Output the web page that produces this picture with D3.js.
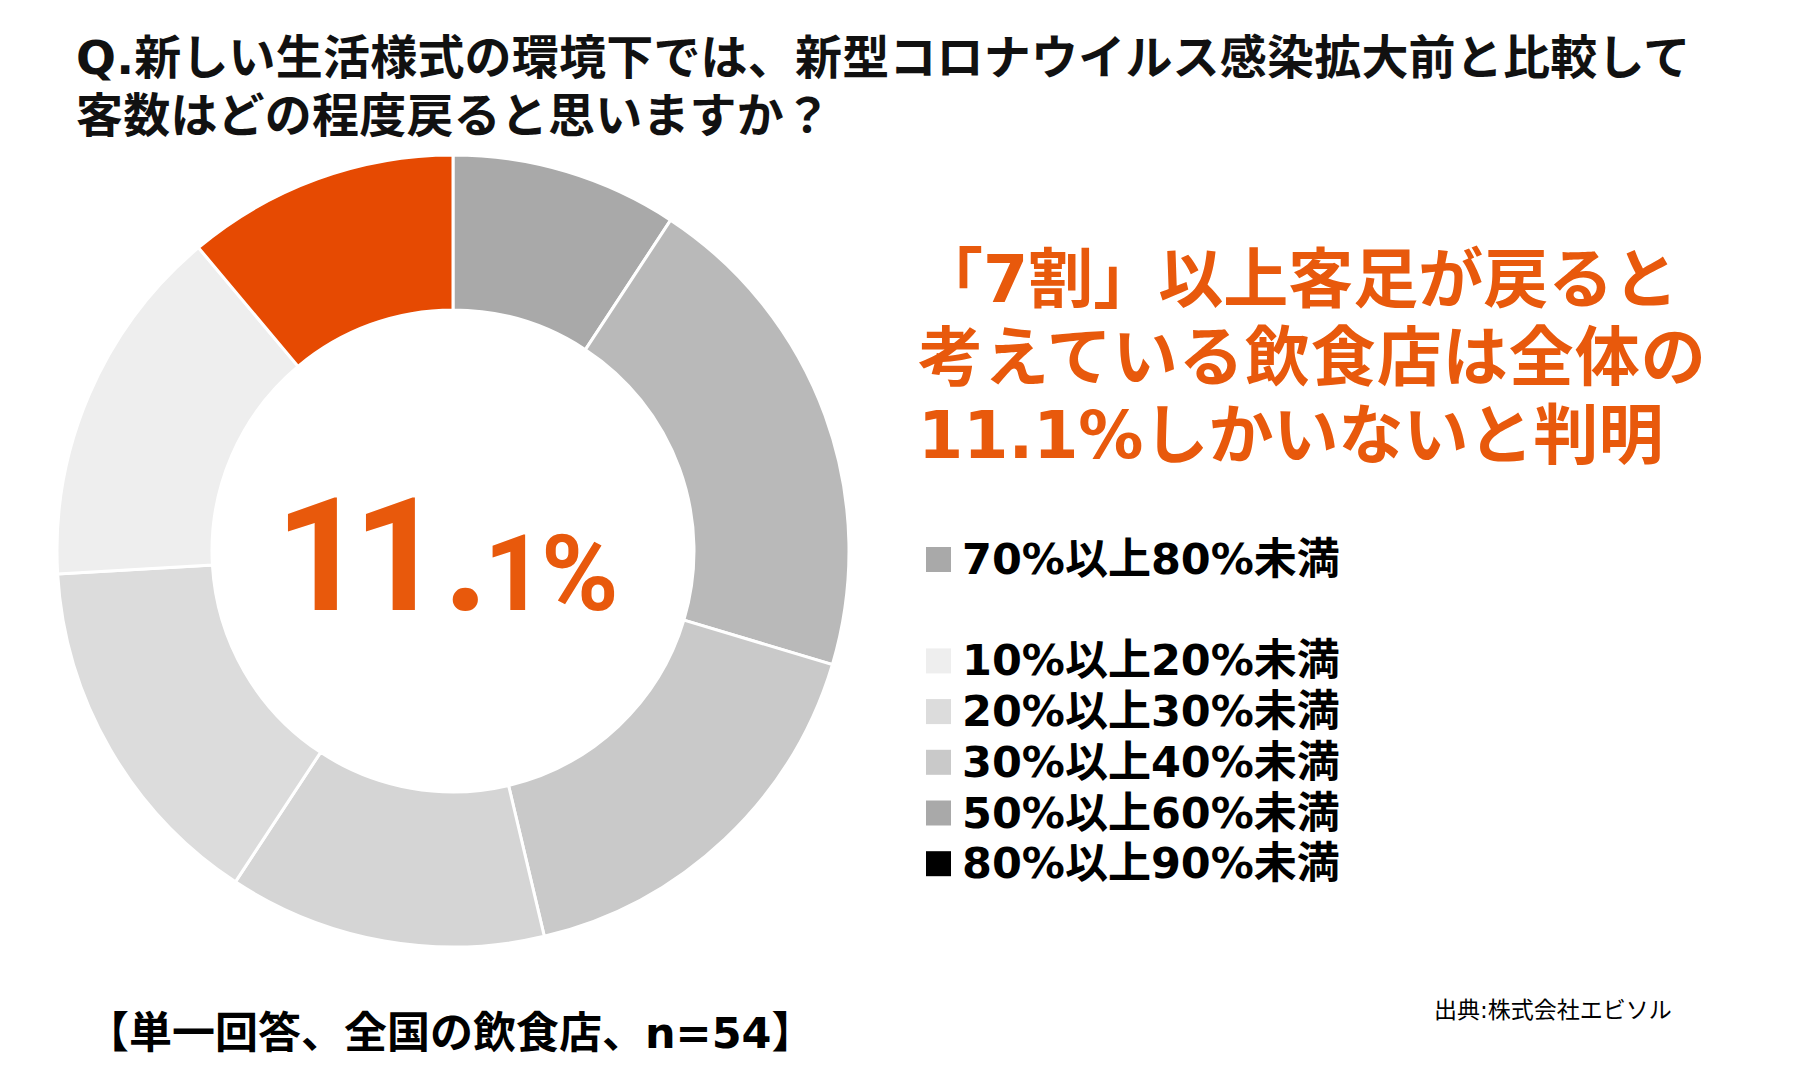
<!DOCTYPE html>
<html>
<head>
<meta charset="utf-8">
<script src="https://cdn.jsdelivr.net/npm/d3@7"></script>
<style>
  body { margin: 0; background: #fff; }
</style>
</head>
<body>
<div id="chart"></div>
<script>
var width = 1799, height = 1085;

// slices clockwise from 12 o'clock (n=54)
var sliceNames  = ["60%以上70%未満", "50%以上60%未満", "40%以上50%未満", "30%以上40%未満", "20%以上30%未満", "10%以上20%未満", "70%以上"];
var sliceCounts = [5, 11, 9, 7, 8, 8, 6];
var sliceColors = ["#a9a9a9", "#b9b9b9", "#c9c9c9", "#d5d5d5", "#dcdcdc", "#eeeeee", "#e64a02"];

// legend as shown (one blank row)
var legendLabels = ["70%以上80%未満", "", "10%以上20%未満", "20%以上30%未満", "30%以上40%未満", "50%以上60%未満", "80%以上90%未満"];
var legendColors = ["#a9a9a9", null, "#eeeeee", "#dcdcdc", "#c9c9c9", "#a9a9a9", "#000000"];

var titleLines = ["Q.新しい生活様式の環境下では、新型コロナウイルス感染拡大前と比較して",
                  "客数はどの程度戻ると思いますか？"];
var headLines = ["「7割」以上客足が戻ると", "考えている飲食店は全体の", "11.1%しかいないと判明"];

var orange = "#e8590c";
var jpFont = "'DejaVu Sans', 'Noto Sans CJK JP', sans-serif";
var numFont = "Roboto, 'Liberation Sans', Arial, sans-serif";

var svg = d3.select("#chart")
  .append("svg")
    .attr("width", width)
    .attr("height", height);

// title
svg.append("g").selectAll("text")
    .data(titleLines)
  .enter().append("text")
    .attr("x", 76)
    .attr("y", function(d, i){ return 74 + i * 58; })
    .style("font-family", jpFont)
    .attr("font-size", 47)
    .attr("font-weight", 700)
    .attr("letter-spacing", 0.2)
    .attr("fill", "#111")
    .text(function(d){ return d; });

// donut
var cx = 453, cy = 551, rOuter = 396, rInner = 241;

var pie = d3.pie().sort(null).value(function(d){ return d; });
var arc = d3.arc().innerRadius(rInner).outerRadius(rOuter);

var donut = svg.append("g")
    .attr("transform", "translate(" + cx + "," + cy + ")");

donut.selectAll("path")
    .data(pie(sliceCounts))
  .enter().append("path")
    .attr("d", arc)
    .attr("fill", function(d, i){ return sliceColors[i]; })
    .attr("stroke", "#fff")
    .attr("stroke-width", 3);

// center value: "11." large, "1%" smaller; each glyph's ink starts at a set left edge
var total = d3.sum(sliceCounts);
var pct = (sliceCounts[6] / total * 100).toFixed(1) + "%";   // 11.1%
var glyphs = pct.split("");
var glyphLeft = [287, 365, 452, 492, 545];
var glyphSize = [158, 158, 158, 105, 105];

var ctx = document.createElement("canvas").getContext("2d");
function inkOffset(ch, size) {
  ctx.font = "bold " + size + "px " + numFont;
  return ctx.measureText(ch).actualBoundingBoxLeft || 0;
}

svg.append("text")
    .attr("y", 610)
    .style("font-family", numFont)
    .attr("font-weight", 700)
    .attr("fill", orange)
  .selectAll("tspan")
    .data(glyphs)
  .enter().append("tspan")
    .attr("x", function(d, i){ return glyphLeft[i] + inkOffset(d, glyphSize[i]); })
    .style("font-family", numFont)
    .attr("font-size", function(d, i){ return glyphSize[i]; })
    .text(function(d){ return d; });

// headline
svg.append("g").selectAll("text")
    .data(headLines)
  .enter().append("text")
    .attr("x", 918)
    .attr("y", function(d, i){ return 302 + i * 78; })
    .style("font-family", jpFont)
    .attr("font-size", 65)
    .attr("font-weight", 700)
    .attr("letter-spacing", function(d, i){ return i == 1 ? 1 : 0; })
    .attr("fill", orange)
    .text(function(d){ return d; });

// legend
var legend = svg.append("g")
    .attr("transform", "translate(926,559)");

var rows = legend.selectAll("g")
    .data(legendLabels)
  .enter().append("g")
    .attr("transform", function(d, i){ return "translate(0," + (i * 50.7) + ")"; });

rows.filter(function(d, i){ return legendColors[i]; })
  .append("rect")
    .attr("x", 0)
    .attr("y", -12)
    .attr("width", 25)
    .attr("height", 25)
    .attr("fill", function(d){ return legendColors[legendLabels.indexOf(d)]; });

rows.append("text")
    .attr("x", 36)
    .attr("y", 15)
    .style("font-family", jpFont)
    .attr("font-size", 43)
    .attr("font-weight", 700)
    .attr("fill", "#000")
    .text(function(d){ return d; });

// footnote & source
svg.append("text")
    .attr("x", 86)
    .attr("y", 1048)
    .style("font-family", jpFont)
    .attr("font-size", 43)
    .attr("font-weight", 700)
    .attr("fill", "#000")
    .text("【単一回答、全国の飲食店、n=54】");

svg.append("text")
    .attr("x", 1434)
    .attr("y", 1018)
    .style("font-family", jpFont)
    .attr("font-size", 23)
    .attr("fill", "#000")
    .text("出典:株式会社エビソル");
</script>
</body>
</html>
